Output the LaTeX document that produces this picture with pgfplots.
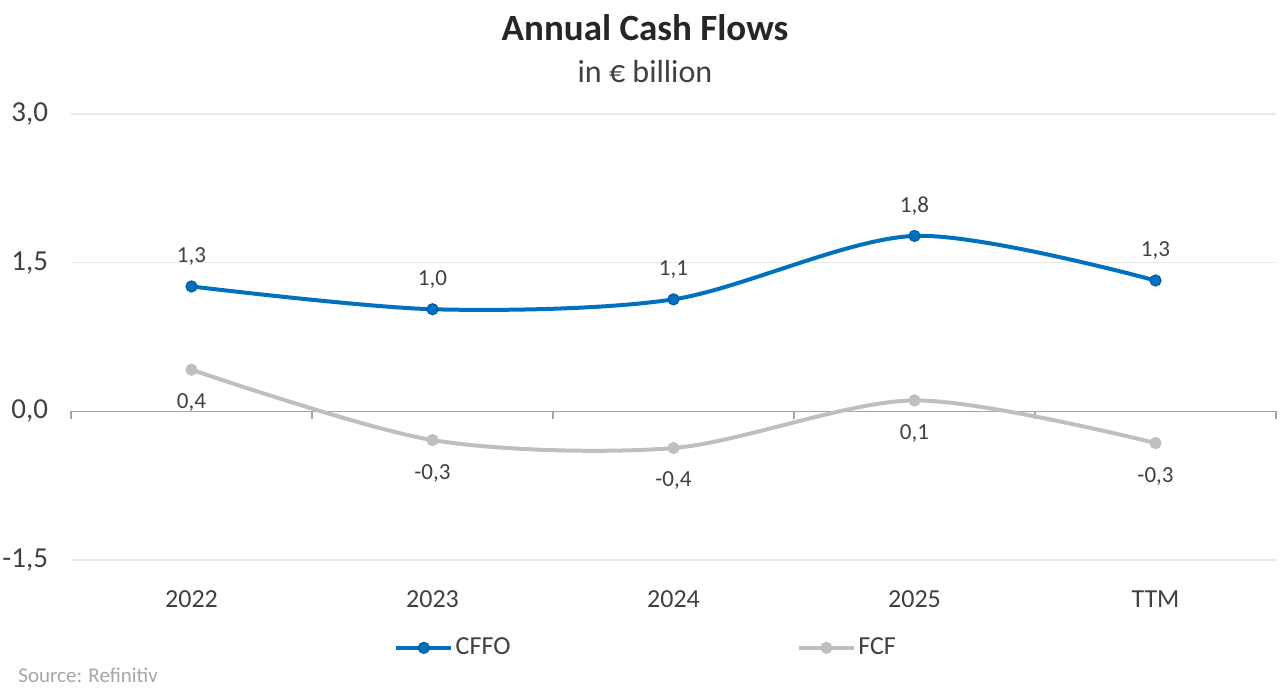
\documentclass[border=0pt]{standalone}
\usepackage{pgfplots}
\pgfplotsset{compat=1.18}
\usepackage{fontspec}
\setmainfont{Carlito}

\definecolor{cffo}{HTML}{0070C0}
\definecolor{fcf}{HTML}{BFBFBF}
\definecolor{gridc}{HTML}{E8E8E8}
\definecolor{axisc}{HTML}{A6A6A6}
\definecolor{txt}{HTML}{404040}
\definecolor{titlec}{HTML}{262626}
\definecolor{srcc}{HTML}{A6A6A6}

% Annual cash flows, EUR billion
\pgfplotstableread{
x y
0 1.26
1 1.03
2 1.13
3 1.77
4 1.32
}\cffo
\pgfplotstableread{
x y
0 0.42
1 -0.29
2 -0.37
3 0.11
4 -0.32
}\fcf

\begin{document}
\begin{tikzpicture}
\path[use as bounding box] (0,0) rectangle (640bp,346bp);
\node[font=\fontsize{18.5bp}{22bp}\selectfont\bfseries, text=titlec] at (322.5bp,332bp) {Annual Cash Flows};
\node[font=\fontsize{16bp}{19bp}\selectfont, text=txt] at (322.5bp,310bp) {in € billion};
\node[anchor=west, inner sep=0pt, font=\fontsize{10.5bp}{12bp}\selectfont, text=srcc] at (9bp,8.5bp) {Source: Refinitiv};
\begin{axis}[
  at={(35.5bp,66bp)}, anchor=south west,
  scale only axis, width=602.5bp, height=223bp,
  xmin=-0.5, xmax=4.5, ymin=-1.5, ymax=3,
  axis line style={draw=none},
  xtick={0,1,2,3,4},
  xticklabels={2022,2023,2024,2025,TTM},
  ytick={-1.5,0,1.5,3},
  major tick length=0pt,
  ymajorgrids,
  grid style={gridc, line width=0.6bp},
  tick label style={text=txt},
  xticklabel style={font=\fontsize{13bp}{15bp}\selectfont, yshift=-12bp},
  yticklabel style={font=\fontsize{14.5bp}{17bp}\selectfont, xshift=-8bp},
  /pgf/number format/.cd, use comma, fixed, fixed zerofill, precision=1, assume math mode=true,
  /pgfplots/.cd,
  clip=false,
  legend columns=2,
  legend style={draw=none, fill=none, at={(0.268,-0.197)}, anchor=west, inner sep=0pt,
    font=\fontsize{13bp}{15bp}\selectfont, text=txt,
    nodes={inner xsep=1.2bp},
    /tikz/every even column/.append style={column sep=142bp}},
  legend cell align=left,
  legend image code/.code={\draw[mark repeat=2,mark phase=2] plot coordinates {(0bp,0bp) (13.75bp,0bp) (27.5bp,0bp)};},
]
% zero line and category separators
\draw[axisc, line width=0.6bp] (axis cs:-0.5,0) -- (axis cs:4.5,0);
\pgfplotsinvokeforeach{-0.5,0.5,1.5,2.5,3.5,4.5}{
  \draw[axisc, line width=0.6bp] (axis cs:#1,0) -- ++(0pt,-4bp);
}
\addplot[cffo, line width=2bp, smooth, tension=0.5, mark=*, mark size=2.8bp,
  mark options={fill=cffo, draw=cffo!80!black, line width=0.5bp},
  nodes near coords, point meta=y,
  every node near coord/.append style={font=\fontsize{11.5bp}{13bp}\selectfont, text=txt, anchor=center, yshift=15bp}] table {\cffo};
\addlegendentry{CFFO}
\addplot[fcf, line width=2bp, smooth, tension=0.5, mark=*, mark size=2.8bp,
  mark options={fill=fcf, draw=fcf, line width=0.5bp},
  nodes near coords, point meta=y,
  every node near coord/.append style={font=\fontsize{11.5bp}{13bp}\selectfont, text=txt, anchor=center, yshift=-16.5bp}] table {\fcf};
\addlegendentry{FCF}
\end{axis}
\end{tikzpicture}
\end{document}
